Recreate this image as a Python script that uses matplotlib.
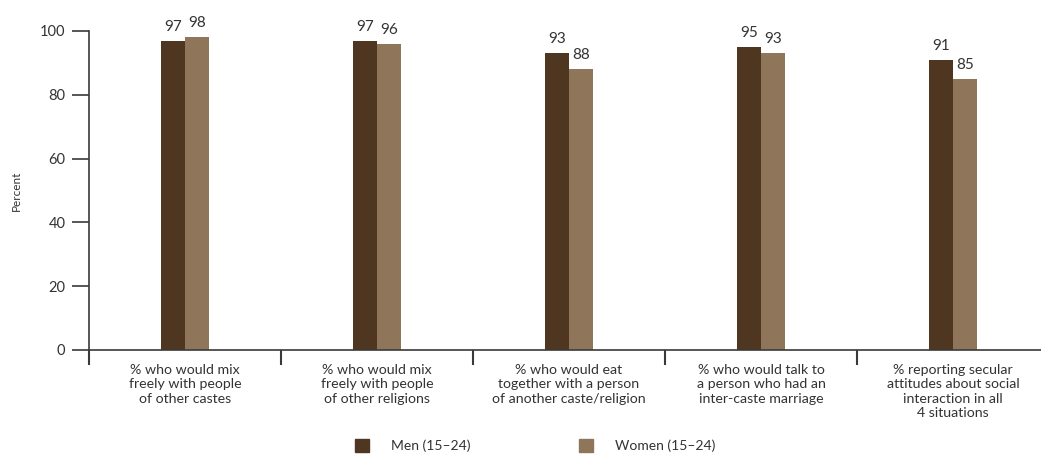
import numpy as np
from matplotlib import pyplot as plt
from matplotlib.patches import Patch

categories = [
    '% who would mix\nfreely with people\nof other castes',
    '% who would mix\nfreely with people\nof other religions',
    '% who would eat\ntogether with a person\nof another caste/religion',
    '% who would talk to\na person who had an\ninter-caste marriage',
    '% reporting secular\nattitudes about social\ninteraction in all\n4 situations',
]
men = [97, 97, 93, 95, 91]
women = [98, 96, 88, 93, 85]
series_names = ['Men (15\u201324)', 'Women (15\u201324)']

men_color = '#4f3620'
women_color = '#8f765a'
axis_color = '#3a3a3a'
text_color = '#333333'

plt.rcParams['font.family'] = ['Lato', 'DejaVu Sans']

fig = plt.figure(figsize=(10.41, 4.55), dpi=100)
ax = fig.add_axes([0.0855, 0.2308, 0.9145, 0.7011])

x = np.arange(len(categories))
w = 0.125
ax.bar(x - w / 2, men, w, color=men_color)
ax.bar(x + w / 2, women, w, color=women_color)

# value labels above each bar
for i in range(len(categories)):
    ax.annotate(str(men[i]), (x[i] - w / 2, men[i]), xytext=(0, 5),
                textcoords='offset points', ha='center', va='bottom',
                fontsize=11, color=text_color, annotation_clip=False)
    ax.annotate(str(women[i]), (x[i] + w / 2, women[i]), xytext=(0, 5),
                textcoords='offset points', ha='center', va='bottom',
                fontsize=11, color=text_color, annotation_clip=False)

ax.set_yticks([0, 20, 40, 60, 80, 100])
ax.tick_params(axis='y', length=12, width=1.2, color=axis_color,
               labelsize=10.5, labelcolor=text_color, pad=5)

# category labels between separator ticks
ax.set_xticks(x)
ax.set_xticklabels(categories, fontsize=10.2, color=text_color, linespacing=1.25)
ax.tick_params(axis='x', which='major', length=0, pad=10)
ax.set_xticks(np.arange(-0.5, 5, 1), minor=True)
ax.tick_params(axis='x', which='minor', length=11, width=1.5, color=axis_color)

# limits after ticks so the ticks don't widen the view
ax.set_xlim(-0.5, 4.458)
ax.set_ylim(0, 100)

for side in ['top', 'right']:
    ax.spines[side].set_visible(False)
for side in ['left', 'bottom']:
    ax.spines[side].set_color(axis_color)
    ax.spines[side].set_linewidth(1.2)

ax.set_ylabel('Percent', fontsize=8.5, color=text_color, labelpad=13)

handles = [Patch(color=men_color), Patch(color=women_color)]
fig.legend(handles, series_names, loc='center', bbox_to_anchor=(0.514, 0.02),
           ncol=2, frameon=False, fontsize=10, handlelength=1.0,
           handleheight=1.0, handletextpad=1.6, columnspacing=7.8,
           labelcolor=text_color)

fig.savefig('out.png', dpi=100)
